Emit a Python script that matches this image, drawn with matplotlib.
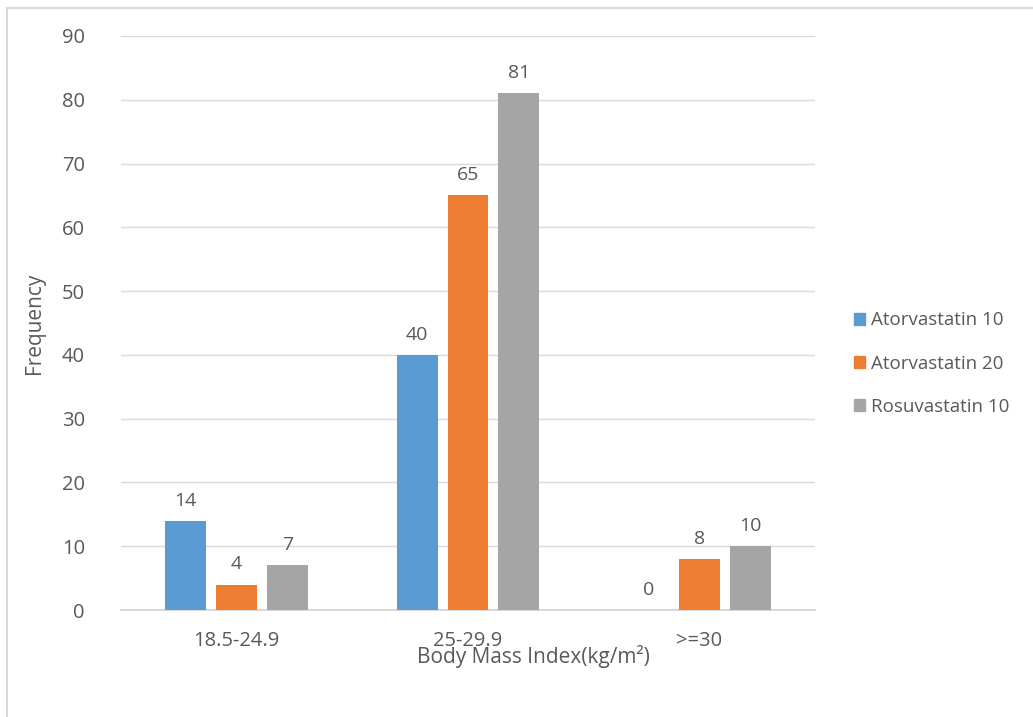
import matplotlib
matplotlib.use("Agg")
import matplotlib.pyplot as plt
import matplotlib.patches as mpatches
import numpy as np

categories = ["18.5-24.9", "25-29.9", ">=30"]
series_names = ["Atorvastatin 10", "Atorvastatin 20", "Rosuvastatin 10"]
ator10 = [14, 40, 0]
ator20 = [4, 65, 8]
rosu10 = [7, 81, 10]
colors = ["#5b9bd5", "#ed7d31", "#a5a5a5"]

plt.rcParams["font.family"] = ["Open Sans", "DejaVu Sans"]
txt = "#595959"
grid_c = "#d9d9d9"

fig = plt.figure(figsize=(10.33, 7.17), dpi=100)
ax = fig.add_axes([0.1171, 0.1492, 0.6719, 0.8006])

x = np.arange(len(categories))
width = 0.177
offset = 0.22
for i, (vals, c) in enumerate(zip([ator10, ator20, rosu10], colors)):
    xs = x + (i - 1) * offset
    ax.bar(xs, vals, width=width, color=c, zorder=3)
    for xi, v in zip(xs, vals):
        ax.annotate(str(v), (xi, v), xytext=(0, 8), textcoords="offset points",
                    ha="center", va="bottom", fontsize=14, color=txt)

ax.set_xlim(-0.5, 2.5)
ax.set_ylim(0, 90)
ax.set_yticks(range(0, 91, 10))
ax.set_xticks(x)
ax.set_xticklabels(categories)
ax.tick_params(axis="both", length=0, labelsize=14.5, colors=txt)
ax.tick_params(axis="y", pad=26)
ax.tick_params(axis="x", pad=15)
ax.grid(axis="y", color=grid_c, linewidth=1, zorder=0)
for s in ["top", "right", "left"]:
    ax.spines[s].set_visible(False)
ax.spines["bottom"].set_color(grid_c)
ax.spines["bottom"].set_linewidth(1.5)

ax.set_ylabel("Frequency", fontsize=15, color=txt, labelpad=12)
fig.text(0.516, 0.085, "Body Mass Index(kg/m²)", fontsize=15, color=txt,
         ha="center", va="center")

handles = [mpatches.Patch(color=c, label=n) for c, n in zip(colors, series_names)]
fig.legend(handles=handles, loc="center left", bbox_to_anchor=(0.81, 0.493),
           frameon=False, fontsize=13.5, labelcolor=txt, handlelength=0.6,
           handleheight=0.6, handletextpad=0.35, labelspacing=1.35)

# outer frame of the chart area
fig.add_artist(plt.Line2D([0.0068, 0.0068], [0, 0.989], color=grid_c, lw=1.5))
fig.add_artist(plt.Line2D([0.0068, 1], [0.989, 0.989], color=grid_c, lw=1.5))

fig.savefig("out.png", dpi=100)
